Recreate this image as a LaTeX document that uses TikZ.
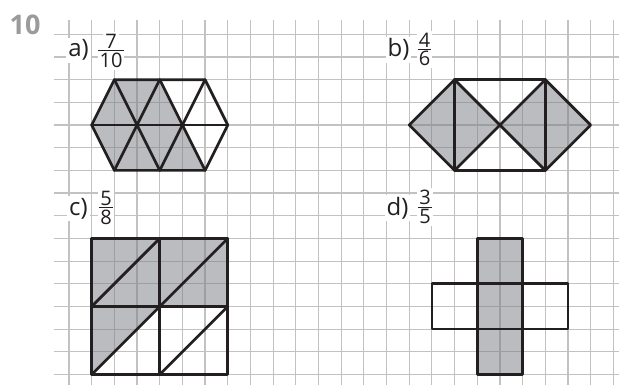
\documentclass[tikz,border=0pt]{standalone}
\usepackage{fontspec}
\setmainfont{Open Sans}
\definecolor{gridc}{RGB}{194,194,194}
\definecolor{shadec}{RGB}{120,123,128}
\definecolor{inkc}{RGB}{35,31,32}
\definecolor{numc}{RGB}{155,155,155}
\begin{document}
\begin{tikzpicture}[x=1pt,y=-1pt,
  gridline/.style={draw=gridc,line width=1.2pt},
  shaded/.style={fill=shadec,fill opacity=0.5},
  outline/.style={draw=inkc,line width=2.7pt,line join=round,line cap=round},
  lbl/.style={anchor=base,inner sep=2pt,fill=white,text=inkc,font=\fontsize{24}{26}\selectfont},
  num/.style={anchor=south,inner sep=2pt,fill=white,text=inkc,font=\fontsize{20}{22}\selectfont},
  den/.style={anchor=north,inner sep=2pt,fill=white,text=inkc,font=\fontsize{20}{22}\selectfont},
  fbar/.style={draw=inkc,line width=0.9pt}]
\useasboundingbox (0,0) rectangle (619,385);
\fill[white] (0,0) rectangle (619,385);
\begin{scope}[shift={(69,34.3)}]
\begin{scope}[x=22.68pt,y=-22.68pt]
  % a) vertices
  \coordinate (t2) at (2,2); \coordinate (t4) at (4,2); \coordinate (t6) at (6,2);
  \coordinate (m1) at (1,4); \coordinate (m3) at (3,4); \coordinate (m5) at (5,4); \coordinate (m7) at (7,4);
  \coordinate (b2) at (2,6); \coordinate (b4) at (4,6); \coordinate (b6) at (6,6);
  % b) vertices
  \coordinate (bl) at (15,4); \coordinate (bT1) at (17,2); \coordinate (bB1) at (17,6);
  \coordinate (bT2) at (21,2); \coordinate (bB2) at (21,6); \coordinate (br) at (23,4);
  \coordinate (bc) at (19,4);
  % c) vertices
  \coordinate (c11) at (1,9); \coordinate (c41) at (4,9); \coordinate (c71) at (7,9);
  \coordinate (c12) at (1,12); \coordinate (c42) at (4,12); \coordinate (c72) at (7,12);
  \coordinate (c13) at (1,15); \coordinate (c43) at (4,15); \coordinate (c73) at (7,15);
  % d) vertices
  \coordinate (dv1) at (18,9); \coordinate (dv2) at (20,15);
  \coordinate (dh1) at (16,11); \coordinate (dh2) at (22,13);
  % grid
  \foreach \j in {0,...,15} \draw[gridline] (-0.66,\j) -- (24.25,\j);
  \foreach \i in {0,...,24} \draw[gridline] (\i,-0.63) -- (\i,15.5);
  % fills
  \path[shaded] (m1) -- (t2) -- (t4) -- (m5) -- (b6) -- (b2) -- cycle;
  \path[shaded] (bl) -- (bT1) -- (bc) -- (bT2) -- (br) -- (bB2) -- (bc) -- (bB1) -- cycle;
  \path[shaded] (c11) -- (c71) -- (c72) -- (c42) -- (c13) -- cycle;
  \path[shaded] (dv1) rectangle (dv2);
  % a) outlines
  \draw[outline] (t2) -- (t6) -- (m7) -- (b6) -- (b2) -- (m1) -- cycle;
  \draw[outline] (m1) -- (m7);
  \draw[outline] (t2) -- (b4);
  \draw[outline] (t4) -- (b6);
  \draw[outline] (t4) -- (b2);
  \draw[outline] (t6) -- (b4);
  % b) outlines
  \draw[outline] (bT1) -- (bT2) -- (bB2) -- (bB1) -- cycle;
  \draw[outline] (bT1) -- (bl) -- (bB1);
  \draw[outline] (bT2) -- (br) -- (bB2);
  \draw[outline] (bT1) -- (bB2);
  \draw[outline] (bB1) -- (bT2);
  % c) outlines
  \draw[outline] (c11) rectangle (c73);
  \draw[outline] (c41) -- (c43);
  \draw[outline] (c12) -- (c72);
  \draw[outline] (c12) -- (c41);
  \draw[outline] (c13) -- (c71);
  \draw[outline] (c43) -- (c72);
  % d) outlines
  \draw[outline] (dv1) rectangle (dv2);
  \draw[outline] (dh1) rectangle (dh2);
\end{scope}
\end{scope}
% heading number
\node[inner sep=0pt,text=numc,font=\fontsize{27}{30}\selectfont\bfseries] (ex) at (25,25) {10};
% labels
\node[lbl] (la) at (78.5,57) {a)};
\node[num] (an) at (111,50.7) {7};
\node[den] (ad) at (111,50.7) {10};
\draw[fbar] ([xshift=1pt]ad.north west) -- ([xshift=-1pt]ad.north east);
\node[lbl] (lb) at (398.5,57) {b)};
\node[num] (bn) at (424.5,49.3) {4};
\node[den] (bd) at (424.5,49.3) {6};
\draw[fbar] ([xshift=1pt]bd.north west) -- ([xshift=-1pt]bd.north east);
\node[lbl] (lc) at (78.5,215) {c)};
\node[num] (cn) at (106,207.5) {5};
\node[den] (cd) at (106,207.5) {8};
\draw[fbar] ([xshift=1pt]cd.north west) -- ([xshift=-1pt]cd.north east);
\node[lbl] (ld) at (397.5,215) {d)};
\node[num] (dn) at (425,207) {3};
\node[den] (dd) at (425,207) {5};
\draw[fbar] ([xshift=1pt]dd.north west) -- ([xshift=-1pt]dd.north east);
\end{tikzpicture}
\end{document}
